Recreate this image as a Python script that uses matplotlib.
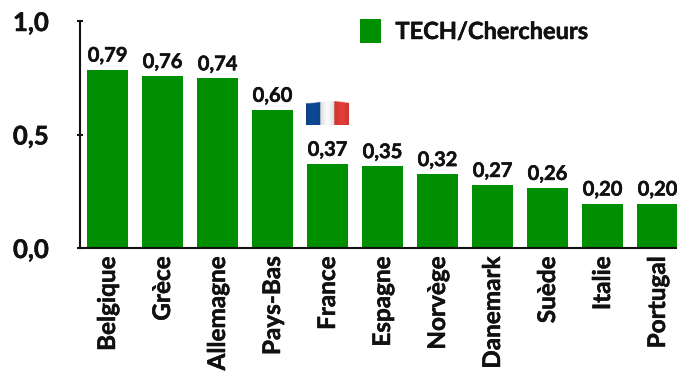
#Header files
import numpy as np
import matplotlib
matplotlib.use("Agg")
import matplotlib.pyplot as plt
import matplotlib.patheffects as pe
from matplotlib.patches import Patch

#Data
countries = ["Belgique", "Grèce", "Allemagne", "Pays-Bas", "France", "Espagne",
             "Norvège", "Danemark", "Suède", "Italie", "Portugal"]
values = [0.79, 0.76, 0.74, 0.60, 0.37, 0.35, 0.32, 0.27, 0.26, 0.20, 0.20]
bar_tops = [0.785, 0.757, 0.747, 0.608, 0.37, 0.36, 0.325, 0.277, 0.264, 0.195, 0.195]
yticks = [0.0, 0.5, 1.0]
ytick_labels = ["0,0", "0,5", "1,0"]

W, H = 677, 374
green = "#008F00"
#Lato bold is lighter than the reference font, so thicken it a little
heavy = [pe.withStroke(linewidth=0.35, foreground="#111111")]

plt.rcParams["font.family"] = ["Lato", "DejaVu Sans"]
plt.rcParams["font.weight"] = "bold"

fig = plt.figure(figsize=(W/100, H/100), dpi=100)

#Axes placed in pixels
left, right, top, bottom = 80, 685, 21, 248
ax = fig.add_axes([left/W, 1-bottom/H, (right-left)/W, (bottom-top)/H])
x = np.arange(len(countries))
ax.bar(x, bar_tops, width=0.745, color=green, clip_on=False)
ax.set_xlim(-0.5, len(countries)-0.5)
ax.set_ylim(0, 1)

for i, v in enumerate(values):
    ax.annotate(f"{v:.2f}".replace(".", ","), (x[i], bar_tops[i]), xytext=(0, 3),
                textcoords="offset points", ha="center", va="bottom",
                fontsize=14.5, color="#111111", fontweight="bold", clip_on=False,
                path_effects=heavy)

ax.set_yticks(yticks)
ax.set_yticklabels(ytick_labels, fontsize=18.5, color="#111111", path_effects=heavy)
ax.set_xticks(x)
ax.set_xticklabels(countries, rotation=90, fontsize=17.5, color="#111111", va="top",
                   path_effects=heavy)
ax.tick_params(axis="x", length=0, pad=6)
ax.tick_params(axis="y", length=5, width=1.5, direction="inout", pad=20, color="#111111")

ax.spines["top"].set_visible(False)
ax.spines["right"].set_visible(False)
ax.spines["left"].set_linewidth(1.5)
ax.spines["bottom"].set_linewidth(1.5)
ax.spines["left"].set_color("#111111")
ax.spines["bottom"].set_color("#111111")

#Legend
handle = [Patch(facecolor=green, label="TECH/Chercheurs")]
leg = fig.legend(handles=handle, loc="center left", bbox_to_anchor=(360/W, 1-31/H),
                 frameon=False, fontsize=17, handlelength=0.9, handleheight=1.2,
                 handletextpad=0.6, borderpad=0, borderaxespad=0)
for t in leg.get_texts():
    t.set_path_effects(heavy)
    t.set_color("#111111")

#French flag picture above the France bar
fh, fw = 24, 43
flag = np.ones((fh*4, fw*4, 4))
xx = np.linspace(0, 1, fw*4)
colors = np.zeros((fw*4, 3))
colors[xx < 0.33] = [0.05, 0.29, 0.58]
colors[(xx >= 0.33) & (xx < 0.66)] = [0.98, 0.98, 0.98]
colors[xx >= 0.66] = [0.90, 0.24, 0.22]
shade = 1 - 0.10*np.cos(xx*np.pi*3)**2
flag[:, :, :3] = np.clip(colors*shade[:, None], 0, 1)[None, :, :]
edge = (0.09 - 0.09*np.sin(xx*np.pi*0.85)**2)*fh*4
rows = np.arange(fh*4)[:, None]
flag[:, :, 3] = (rows >= edge[None, :]).astype(float)
flag_ax = fig.add_axes([306/W, 1-125/H, fw/W, fh/H])
flag_ax.imshow(flag, aspect="auto", interpolation="bilinear")
flag_ax.axis("off")

fig.savefig("out.png", dpi=100)
